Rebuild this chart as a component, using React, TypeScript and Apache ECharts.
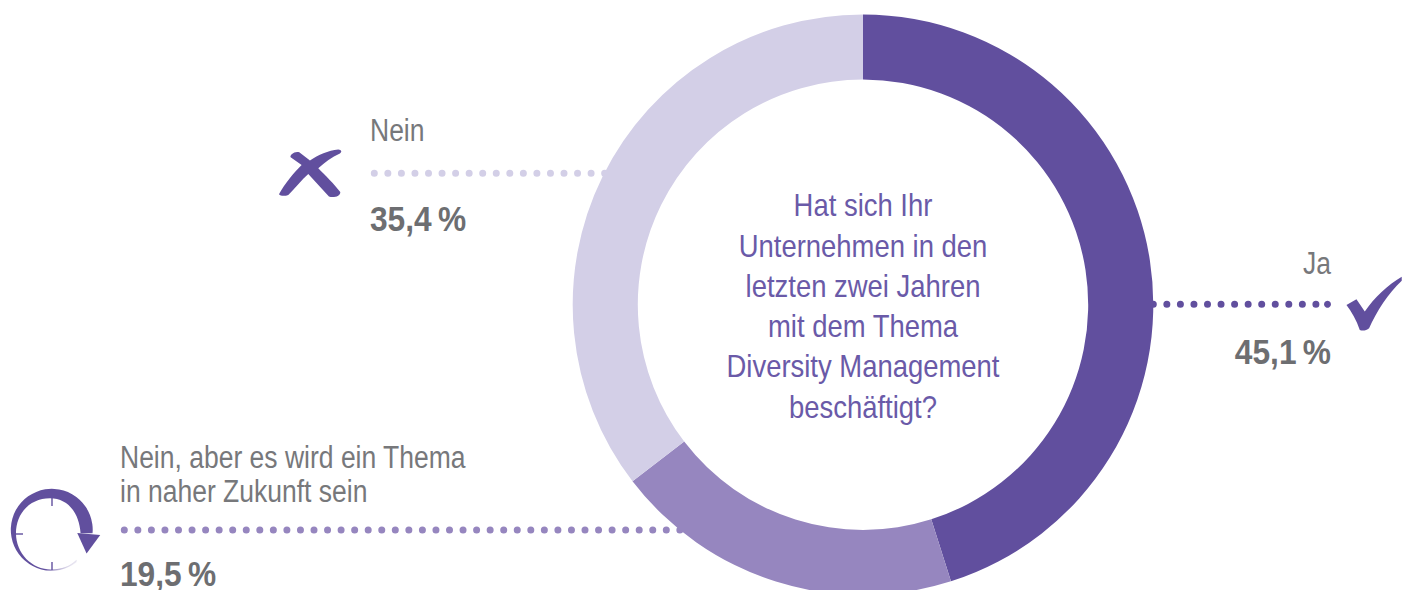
import React, { useEffect, useRef } from "react";
import * as echarts from "echarts";

const categories = ["Ja", "Nein, aber es wird ein Thema in naher Zukunft sein", "Nein"];
const values = [45.1, 19.5, 35.4];
const colors = ["#614f9e", "#9686bf", "#d3cfe7"];
const questionLines = [
  "Hat sich Ihr",
  "Unternehmen in den",
  "letzten zwei Jahren",
  "mit dem Thema",
  "Diversity Management",
  "beschäftigt?",
];
const soonLines = ["Nein, aber es wird ein Thema", "in naher Zukunft sein"];

const PURPLE = "#614f9e";
const GREY = "#6d6e71";
const LIGHT_GREY = "#77787b";
const LIGHT_PURPLE = "#6a5aa8";
const FONT = '"Liberation Sans", Arial, sans-serif';
const pct = (v: number) => v.toFixed(1).replace(".", ",") + "\u202f%";

echarts.graphic.registerShape(
  "crossIcon",
  echarts.graphic.extendPath(
    "M57 283 C75 250 100 220 125 195 L92 172 C88 165 105 152 118 157 L150 182 C175 165 205 152 235 149 C245 150 247 156 240 161 C215 172 195 188 175 205 C195 225 225 255 241 276 C243 288 222 295 207 290 L145 222 C125 240 105 265 85 285 C75 289 62 289 57 283 Z",
    {}
  )
);
echarts.graphic.registerShape(
  "checkIcon",
  echarts.graphic.extendPath(
    "M620 195 L650 178 L675 215 C705 170 745 135 786 110 L786 122 C745 160 710 215 688 265 C680 272 668 274 660 270 C650 240 635 215 620 195 Z",
    {}
  )
);
echarts.graphic.registerShape(
  "clockRing",
  echarts.graphic.extendPath(
    "M230 397.5 A123 123 0 1 1 278 310 L242 310 C238 250 205 205 150 205 C90 205 48 250 48 310 C48 370 95 419 155 419 C185 419 210 410 230 390 Z",
    {}
  )
);
echarts.graphic.registerShape(
  "clockArrow",
  echarts.graphic.extendPath("M232 309 L301 315 L260 371 Z", {})
);

function dots(x1: number, x2: number, y: number, color: string) {
  return {
    type: "line",
    shape: { x1, y1: y, x2, y2: y },
    style: { stroke: color, lineWidth: 7, lineCap: "round", lineDash: [0, 13.55] },
    silent: true,
  };
}
function label(text: string, x: number, y: number, opts: any = {}) {
  return {
    type: "text",
    x,
    y,
    scaleX: opts.scaleX || 0.855,
    silent: true,
    style: {
      text,
      fill: opts.fill || LIGHT_GREY,
      font: `${opts.bold ? "bold " : ""}${opts.size || 31}px ${FONT}`,
      align: opts.align || "left",
      verticalAlign: "middle",
    },
  };
}
const boldOpts = { bold: true, size: 36, scaleX: 0.88, fill: GREY };

export default function App() {
  const ref = useRef<HTMLDivElement>(null);
  useEffect(() => {
    const chart = echarts.init(ref.current!, undefined, { renderer: "svg" });
    const icon = (type: string, x: number, y: number, fill: any) => ({
      type,
      x,
      y,
      scaleX: 1 / 3,
      scaleY: 1 / 3,
      silent: true,
      style: { fill },
    });
    const tick = (x1: number, y1: number, x2: number, y2: number) => ({
      type: "line",
      silent: true,
      shape: { x1, y1, x2, y2 },
      style: { stroke: PURPLE, lineWidth: 1.4 },
    });
    chart.setOption({
      animation: false,
      backgroundColor: "#ffffff",
      color: colors,
      graphic: {
        elements: [
          dots(374.3, 606, 173.3, colors[2]),
          dots(124.3, 690, 530, colors[1]),
          dots(1153.3, 1317.5, 304.3, colors[0]),
          { type: "circle", silent: true, shape: { cx: 1327.5, cy: 304.3, r: 3.5 }, style: { fill: colors[0] } },
          icon("crossIcon", 260, 100, PURPLE),
          icon("checkIcon", 1140, 240, PURPLE),
          icon(
            "clockRing",
            0,
            430,
            new echarts.graphic.LinearGradient(0.5, 0.75, 0.7, 1, [
              { offset: 0, color: PURPLE },
              { offset: 0.4, color: PURPLE },
              { offset: 1, color: "#ffffff" },
            ])
          ),
          icon("clockArrow", 0, 430, PURPLE),
          tick(52, 498, 52, 506),
          tick(16, 534, 23, 534),
          tick(52, 562, 52, 570),
          label(categories[2], 370, 130),
          label(pct(values[2]), 370, 218, boldOpts),
          label(categories[0], 1331, 263, { align: "right" }),
          label(pct(values[0]), 1331, 351, { ...boldOpts, align: "right" }),
          ...soonLines.map((t, i) => label(t, 120, 457 + i * 34)),
          label(pct(values[1]), 120, 573, boldOpts),
          ...questionLines.map((t, i) =>
            label(t, 863, 205 + i * 40.3, { align: "center", fill: LIGHT_PURPLE, size: 32, scaleX: 0.858 })
          ),
        ],
      },
      series: [
        {
          type: "pie",
          center: [863, 304.7],
          radius: [225.2, 290.3],
          startAngle: 90,
          clockwise: true,
          silent: true,
          label: { show: false },
          labelLine: { show: false },
          data: categories.map((name, i) => ({
            name,
            value: values[i],
            itemStyle: { color: colors[i] },
          })),
        },
      ],
    });
    return () => chart.dispose();
  }, []);
  return (
    <div
      ref={ref}
      style={{ position: "absolute", left: 0, top: 0, width: 1402, height: 590, overflow: "hidden" }}
    />
  );
}
